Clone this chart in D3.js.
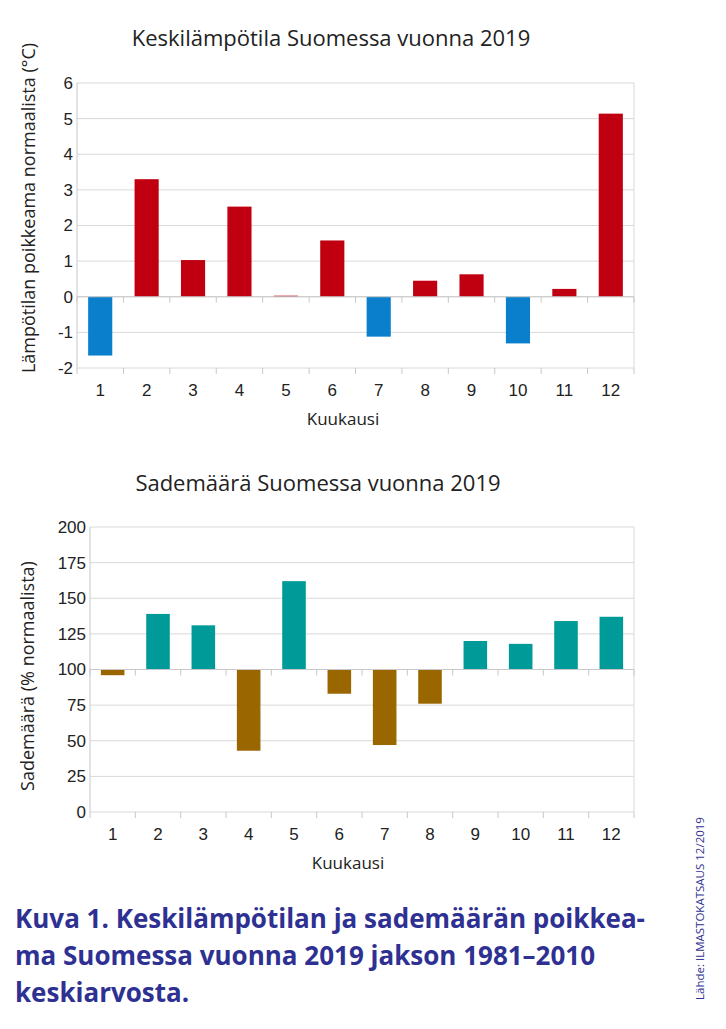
<!DOCTYPE html>
<html lang="fi">
<head>
  <meta charset="UTF-8">
  <title>Keskilämpötila ja sademäärä 2019</title>
  <style>
    body { margin: 0; background: #fff; }
    svg { display: block; }
    .tick-label { font-family: "Liberation Sans", Arial, sans-serif; font-size: 17px; fill: #222; }
    .axis-title { font-family: "Open Sans", sans-serif; font-size: 17px; fill: #222; }
    .y-title { font-family: "Open Sans", sans-serif; font-size: 18px; fill: #222; }
    .chart-title { font-family: "Open Sans", sans-serif; font-size: 22px; fill: #222; }
    .caption { font-family: "Open Sans", sans-serif; font-weight: 700; font-size: 26px; fill: #2e3192; }
    .source { font-family: "Open Sans", sans-serif; font-size: 11.5px; fill: #2e3192; }
  </style>
</head>
<body>
<svg width="726" height="1029"></svg>

<script src="https://d3js.org/d3.v7.min.js"></script>
<script>
// 1. data
var months = ["1", "2", "3", "4", "5", "6", "7", "8", "9", "10", "11", "12"];
var tempValues = [-1.65, 3.3, 1.03, 2.53, 0.03, 1.58, -1.12, 0.45, 0.63, -1.31, 0.22, 5.14];
var rainValues = [96, 139, 131, 43, 162, 83, 47, 76, 120, 118, 134, 137];
var tempTicks = [-2, -1, 0, 1, 2, 3, 4, 5, 6];
var rainTicks = [0, 25, 50, 75, 100, 125, 150, 175, 200];

var svg = d3.select("svg");
var gridColor = "#d9d9d9";

// 2. one bar chart with a baseline (0 or 100)
function drawChart(opt) {
  var g = svg.append("g");

  var x = d3.scaleBand()
    .domain(months)
    .range([opt.left, opt.right])
    .paddingInner(0.48)
    .paddingOuter(0.24);

  var y = d3.scaleLinear()
    .domain([opt.ticks[0], opt.ticks[opt.ticks.length - 1]])
    .range([opt.bottom, opt.top]);

  // gridlines
  g.selectAll(".grid")
    .data(opt.ticks)
    .enter()
    .append("line")
    .attr("x1", opt.left)
    .attr("x2", opt.right)
    .attr("y1", function(d) { return y(d); })
    .attr("y2", function(d) { return y(d); })
    .attr("stroke", gridColor)
    .attr("stroke-width", 1);

  // frame sides
  g.append("line")
    .attr("x1", opt.left).attr("x2", opt.left)
    .attr("y1", opt.top).attr("y2", opt.bottom)
    .attr("stroke", "#c8c8c8");
  g.append("line")
    .attr("x1", opt.right).attr("x2", opt.right)
    .attr("y1", opt.top).attr("y2", opt.bottom)
    .attr("stroke", gridColor);

  // y tick labels
  g.selectAll(".ylab")
    .data(opt.ticks)
    .enter()
    .append("text")
    .attr("class", "tick-label")
    .attr("x", opt.left - 4)
    .attr("y", function(d) { return y(d); })
    .attr("dy", "0.35em")
    .attr("text-anchor", "end")
    .text(function(d) { return d; });

  // bars
  g.selectAll(".bar")
    .data(opt.values)
    .enter()
    .append("rect")
    .attr("x", function(d, i) { return x(months[i]); })
    .attr("width", x.bandwidth())
    .attr("y", function(d) { return y(Math.max(d, opt.base)); })
    .attr("height", function(d) { return Math.abs(y(d) - y(opt.base)); })
    .attr("fill", function(d) { return d >= opt.base ? opt.upColor : opt.downColor; });

  // category boundary ticks at the baseline and at the bottom
  var bounds = d3.range(months.length + 1).map(function(i) { return opt.left + i * x.step(); });
  [y(opt.base), opt.bottom].forEach(function(yy) {
    g.selectAll(null)
      .data(bounds)
      .enter()
      .append("line")
      .attr("x1", function(d) { return d; })
      .attr("x2", function(d) { return d; })
      .attr("y1", yy)
      .attr("y2", yy + 6)
      .attr("stroke", "#c8c8c8");
  });
  g.append("line")
    .attr("x1", opt.left).attr("x2", opt.right)
    .attr("y1", y(opt.base)).attr("y2", y(opt.base))
    .attr("stroke", "#c8c8c8");

  // x labels
  g.selectAll(".xlab")
    .data(months)
    .enter()
    .append("text")
    .attr("class", "tick-label")
    .attr("x", function(d) { return x(d) + x.bandwidth() / 2; })
    .attr("y", opt.bottom + 28)
    .attr("text-anchor", "middle")
    .text(function(d) { return d; });

  // titles
  g.append("text")
    .attr("class", "chart-title")
    .attr("x", opt.titleX)
    .attr("y", opt.titleY)
    .attr("text-anchor", "middle")
    .text(opt.title);

  g.append("text")
    .attr("class", "axis-title")
    .attr("x", opt.xTitleX)
    .attr("y", opt.bottom + 57)
    .attr("text-anchor", "middle")
    .text("Kuukausi");

  g.append("text")
    .attr("class", "y-title")
    .attr("transform", "translate(" + opt.yTitleX + "," + opt.yTitleY + ") rotate(-90)")
    .attr("text-anchor", "middle")
    .text(opt.yTitle);
}

// 3. charts
drawChart({
  values: tempValues, ticks: tempTicks, base: 0,
  left: 77, right: 634, top: 83, bottom: 368,
  upColor: "#c00010", downColor: "#0a80cc",
  title: "Keskilämpötila Suomessa vuonna 2019", titleX: 331, titleY: 46,
  xTitleX: 343,
  yTitle: "Lämpötilan poikkeama normaalista (°C)", yTitleX: 35, yTitleY: 208
});

drawChart({
  values: rainValues, ticks: rainTicks, base: 100,
  left: 90, right: 634, top: 527, bottom: 812,
  upColor: "#009a99", downColor: "#996600",
  title: "Sademäärä Suomessa vuonna 2019", titleX: 318, titleY: 491,
  xTitleX: 348,
  yTitle: "Sademäärä (% normaalista)", yTitleX: 34, yTitleY: 676
});

// 4. caption and source
var captionLines = [
  "Kuva 1. Keskilämpötilan ja sademäärän poikkea-",
  "ma Suomessa vuonna 2019 jakson 1981–2010",
  "keskiarvosta."
];
svg.selectAll(".caption")
  .data(captionLines)
  .enter()
  .append("text")
  .attr("class", "caption")
  .attr("x", 15)
  .attr("y", function(d, i) { return 928 + i * 37; })
  .text(function(d) { return d; });

svg.append("text")
  .attr("class", "source")
  .attr("transform", "translate(704,1000) rotate(-90)")
  .text("Lähde:  ILMASTOKATSAUS 12/2019");
</script>
</body>
</html>
